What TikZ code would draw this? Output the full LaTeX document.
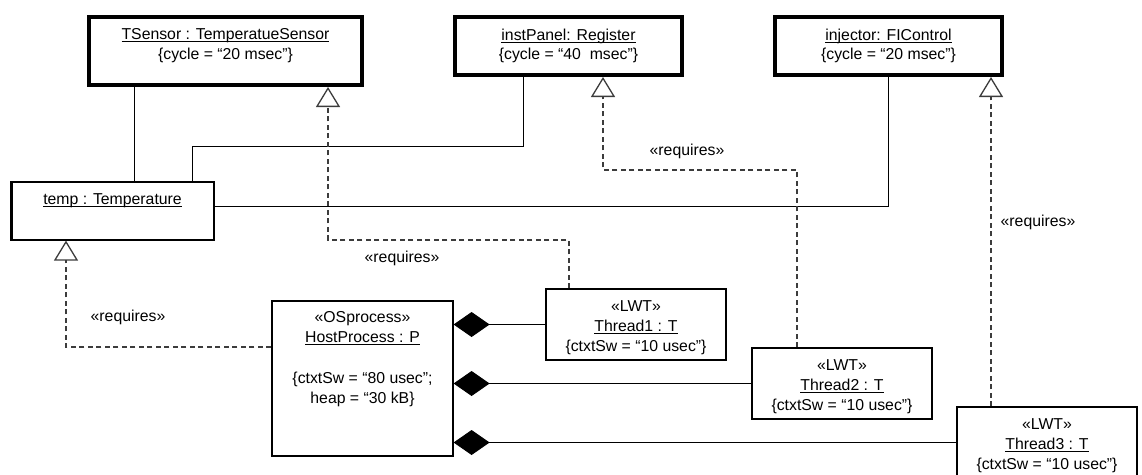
\documentclass[tikz,border=0pt]{standalone}
\usepackage{fontspec}
\setmainfont{Liberation Sans}
\usetikzlibrary{arrows.meta}
\definecolor{depgray}{RGB}{60,60,60}
\newcommand{\uname}[1]{\setbox0\hbox{#1}\rlap{\rule[-2.6pt]{\wd0}{1.1pt}}\box0}

\begin{document}
\begin{tikzpicture}[x=1pt, y=-1pt,
    every node/.style={font=\fontsize{15.8}{19.8}\selectfont, inner sep=0pt},
    active/.style={draw, line width=4pt},
    passive/.style={draw, line width=1.2pt},
    objtext/.style={align=center, anchor=north},
    assoc/.style={line width=1pt},
    req/.style={depgray, line width=1.3pt, dash pattern=on 5pt off 3.5pt,
      -{Triangle[open, fill=white, width=24pt, length=20pt]}},
    comp/.style={line width=1pt, {Diamond[width=25pt, length=36pt]}-}]
        \useasboundingbox (0,0) rectangle (1142,474);
        \clip (0,0) rectangle (1142,474);
        % Active objects
        \node[active, minimum width=273pt, minimum height=68pt] (tsensor) at (225.5,51) {};
        \node[objtext] (tsensorText) at ([yshift=-13.5pt]tsensor.north)
          {\uname{TSensor : TemperatueSensor}\\\{cycle = “20 msec”\}};
        \node[active, minimum width=227pt, minimum height=58pt] (instpanel) at (568.5,46) {};
        \node[objtext] (instpanelText) at ([yshift=-13.5pt]instpanel.north)
          {\uname{instPanel: Register}\\\{cycle = “40~~msec”\}};
        \node[active, minimum width=227pt, minimum height=58pt] (injector) at (888.5,46) {};
        \node[objtext] (injectorText) at ([yshift=-13.5pt]injector.north)
          {\uname{injector: FIControl}\\\{cycle = “20 msec”\}};
        % Passive object
        \node[passive, minimum width=203pt, minimum height=58pt] (temp) at (112.5,211) {};
        \draw[line width=2.5pt] ([xshift=1pt]temp.north west) -- ([xshift=1pt]temp.south west);
        \node[objtext] (tempText) at ([yshift=-12pt]temp.north) {\uname{temp : Temperature}};
        % Process and threads
        \node[passive, minimum width=181pt, minimum height=155pt] (host) at (362.5,378.5) {};
        \node[objtext] (hostText) at ([yshift=-11pt]host.north)
          {«OSprocess»\\\uname{HostProcess : P}\\[21.5pt]\{ctxtSw = “80 usec”;\\heap = “30 kB\}};
        \node[passive, minimum width=180pt, minimum height=71pt] (thread1) at (636,324.5) {};
        \node[objtext] (thread1Text) at ([yshift=-12pt]thread1.north)
          {«LWT»\\\uname{Thread1 : T}\\\{ctxtSw = “10 usec”\}};
        \node[passive, minimum width=180pt, minimum height=71pt] (thread2) at (842,383.5) {};
        \node[objtext] (thread2Text) at ([yshift=-12.5pt]thread2.north)
          {«LWT»\\\uname{Thread2 : T}\\\{ctxtSw = “10 usec”\}};
        \node[passive, minimum width=180pt, minimum height=71pt] (thread3) at (1047,442.5) {};
        \node[objtext] (thread3Text) at ([yshift=-12pt]thread3.north)
          {«LWT»\\\uname{Thread3 : T}\\\{ctxtSw = “10 usec”\}};
        % Associations
        \draw[assoc] ([xshift=-91.5pt]tsensor.south) -- ([xshift=21.5pt]temp.north);
        \draw[assoc] ([xshift=79.5pt]temp.north) -- ++(0,-35.4) -| ([xshift=-45.5pt]instpanel.south);
        \draw[assoc] ([yshift=5pt]temp.east) -| (injector.south);
        % Requires dependencies
        \draw[req] ([xshift=-67pt]thread1.north) -- ++(0,-48.4) -| ([xshift=102.5pt]tsensor.south);
        \draw[req] ([xshift=-45pt]thread2.north) -- ++(0,-177.4) -| ([xshift=34.5pt]instpanel.south);
        \draw[req] ([xshift=-56pt]thread3.north) -- ([xshift=102.5pt]injector.south);
        \draw[req] ([yshift=31.5pt]host.west) -| ([xshift=-46.5pt]temp.south);
        \node (reqTemp) at (128,317) {«requires»};
        \node (reqSensor) at (402,258) {«requires»};
        \node (reqPanel) at (687,151) {«requires»};
        \node (reqInjector) at (1038,222) {«requires»};
        % Compositions
        \draw[comp] (host.east |- thread1.west) -- (thread1.west);
        \draw[comp] (host.east |- thread2.west) -- (thread2.west);
        \draw[comp] (host.east |- thread3.west) -- (thread3.west);
\end{tikzpicture}
\end{document}
